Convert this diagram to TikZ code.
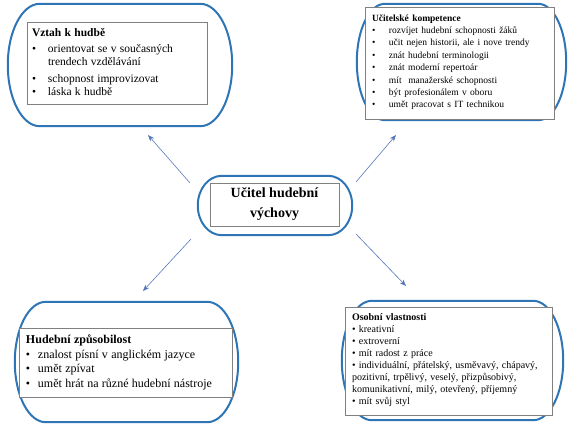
\documentclass[tikz,border=0pt]{standalone}
\usepackage{fontspec}
\setmainfont{Liberation Serif}
\usetikzlibrary{arrows.meta}
\definecolor{ovalblue}{RGB}{46,117,182}
\definecolor{boxgray}{RGB}{128,128,128}
\definecolor{arrowblue}{RGB}{84,118,184}

% oval frame round a node: node name, x radius, y radius
\newcommand\ovalframe[3]{%
  \draw[ovalline] ([xshift=#2]#1.north west) -- ([xshift=-#2]#1.north east)
    arc[start angle=90, end angle=0, x radius=#2, y radius=#3]
    -- ([yshift=#3]#1.south east)
    arc[start angle=0, end angle=-90, x radius=#2, y radius=#3]
    -- ([xshift=#2]#1.south west)
    arc[start angle=270, end angle=180, x radius=#2, y radius=#3]
    -- ([yshift=-#3]#1.north west)
    arc[start angle=180, end angle=90, x radius=#2, y radius=#3] -- cycle;}

\begin{document}
\begin{tikzpicture}[x=1pt, y=-1pt, >={Stealth[length=6.5pt,width=5pt]},
  ovalline/.style={draw=ovalblue, line width=2pt},
  ovalspot/.style={inner sep=0pt},
  inbox/.style={draw=boxgray, fill=white, line width=0.8pt, inner sep=5pt, align=left},
  conn/.style={->, draw=arrowblue, line width=0.6pt}]
  \useasboundingbox (0,0) rectangle (571,445);

  % Ovals
  \node[ovalspot, minimum width=224pt, minimum height=122pt] (vztahOval) at (120,65) {};
  \node[ovalspot, minimum width=209pt, minimum height=116pt] (kompetenceOval) at (461.5,62) {};
  \node[ovalspot, minimum width=154pt, minimum height=59pt] (ucitelOval) at (275,205.5) {};
  \node[ovalspot, minimum width=223pt, minimum height=120pt] (zpusobilostOval) at (126.5,362) {};
  \node[ovalspot, minimum width=221pt, minimum height=119pt] (vlastnostiOval) at (452.5,360.5) {};
  \ovalframe{vztahOval}{32pt}{61pt}
  \ovalframe{kompetenceOval}{28pt}{58pt}
  \ovalframe{ucitelOval}{24pt}{29.5pt}
  \ovalframe{zpusobilostOval}{31pt}{60pt}
  \ovalframe{vlastnostiOval}{30pt}{59.5pt}

  % Boxes
  \node[inbox, text width=170pt, minimum height=80pt] (vztah) at (117,63)
    {\fontsize{11.5}{13}\selectfont
     \begin{tabular}{@{}p{16pt}@{}l@{}}
       \multicolumn{2}{@{}l@{}}{\textbf{Vztah k hudbě}}\\[3pt]
       \textbullet & orientovat se v současných\\
                   & trendech vzdělávání\\[4pt]
       \textbullet & schopnost improvizovat\\
       \textbullet & láska k hudbě
     \end{tabular}};
  \node[inbox, inner xsep=7pt, text width=175pt, minimum height=105pt] (kompetence) at (459.5,63.5)
    {\vspace*{3pt}\fontsize{9.5}{12.4}\selectfont
     \begin{tabular}{@{}p{17pt}@{}l@{}}
       \multicolumn{2}{@{}l@{}}{\textbf{Učitelské kompetence}}\\
       \textbullet & rozvíjet hudební schopnosti žáků\\
       \textbullet & učit nejen historii, ale i nove trendy\\
       \textbullet & znát hudební terminologii\\
       \textbullet & znát moderní repertoár\\
       \textbullet & mít\ \ manažerské schopnosti\\
       \textbullet & být profesionálem v oboru\\
       \textbullet & umět pracovat s IT technikou
     \end{tabular}};
  \node[inbox, align=center, minimum width=129pt, minimum height=43pt,
    font=\fontsize{14}{20}\selectfont\bfseries] (ucitel) at (274.5,204.5) {Učitel hudební\\výchovy};
  \node[inbox, inner xsep=7pt, text width=199pt, minimum height=69pt] (zpusobilost) at (125.5,362.5)
    {\fontsize{12}{14.7}\selectfont
     \begin{tabular}{@{}p{12pt}@{}l@{}}
       \multicolumn{2}{@{}l@{}}{\textbf{Hudební způsobilost}}\\
       \textbullet & znalost písní v anglickém jazyce\\
       \textbullet & umět zpívat\\
       \textbullet & umět hrát na různé hudební nástroje
     \end{tabular}};
  \node[inbox, inner xsep=7pt, text width=193pt, minimum height=103pt] (vlastnosti) at (448.5,361.5)
    {\vspace*{2pt}\fontsize{10}{12}\selectfont
     \begin{tabular}{@{}l@{}}
       \textbf{Osobní vlastnosti}\\
       \textbullet\ kreativní\\
       \textbullet\ extroverní\\
       \textbullet\ mít radost z práce\\
       \textbullet\ individuální, přátelský, usměvavý, chápavý,\\
       pozitivní, trpělivý, veselý, přizpůsobivý,\\
       komunikativní, milý, otevřený, příjemný\\
       \textbullet\ mít svůj styl
     \end{tabular}};

  % Arrows
  \coordinate (tlA) at (190,183);  \coordinate (tlB) at (148,135);
  \coordinate (trA) at (356,182);  \coordinate (trB) at (396,135);
  \coordinate (blA) at (191,239);  \coordinate (blB) at (143,291);
  \coordinate (brA) at (356,234);  \coordinate (brB) at (406,286);
  \draw[conn] (tlA) -- (tlB);
  \draw[conn] (trA) -- (trB);
  \draw[conn] (blA) -- (blB);
  \draw[conn] (brA) -- (brB);
\end{tikzpicture}
\end{document}
